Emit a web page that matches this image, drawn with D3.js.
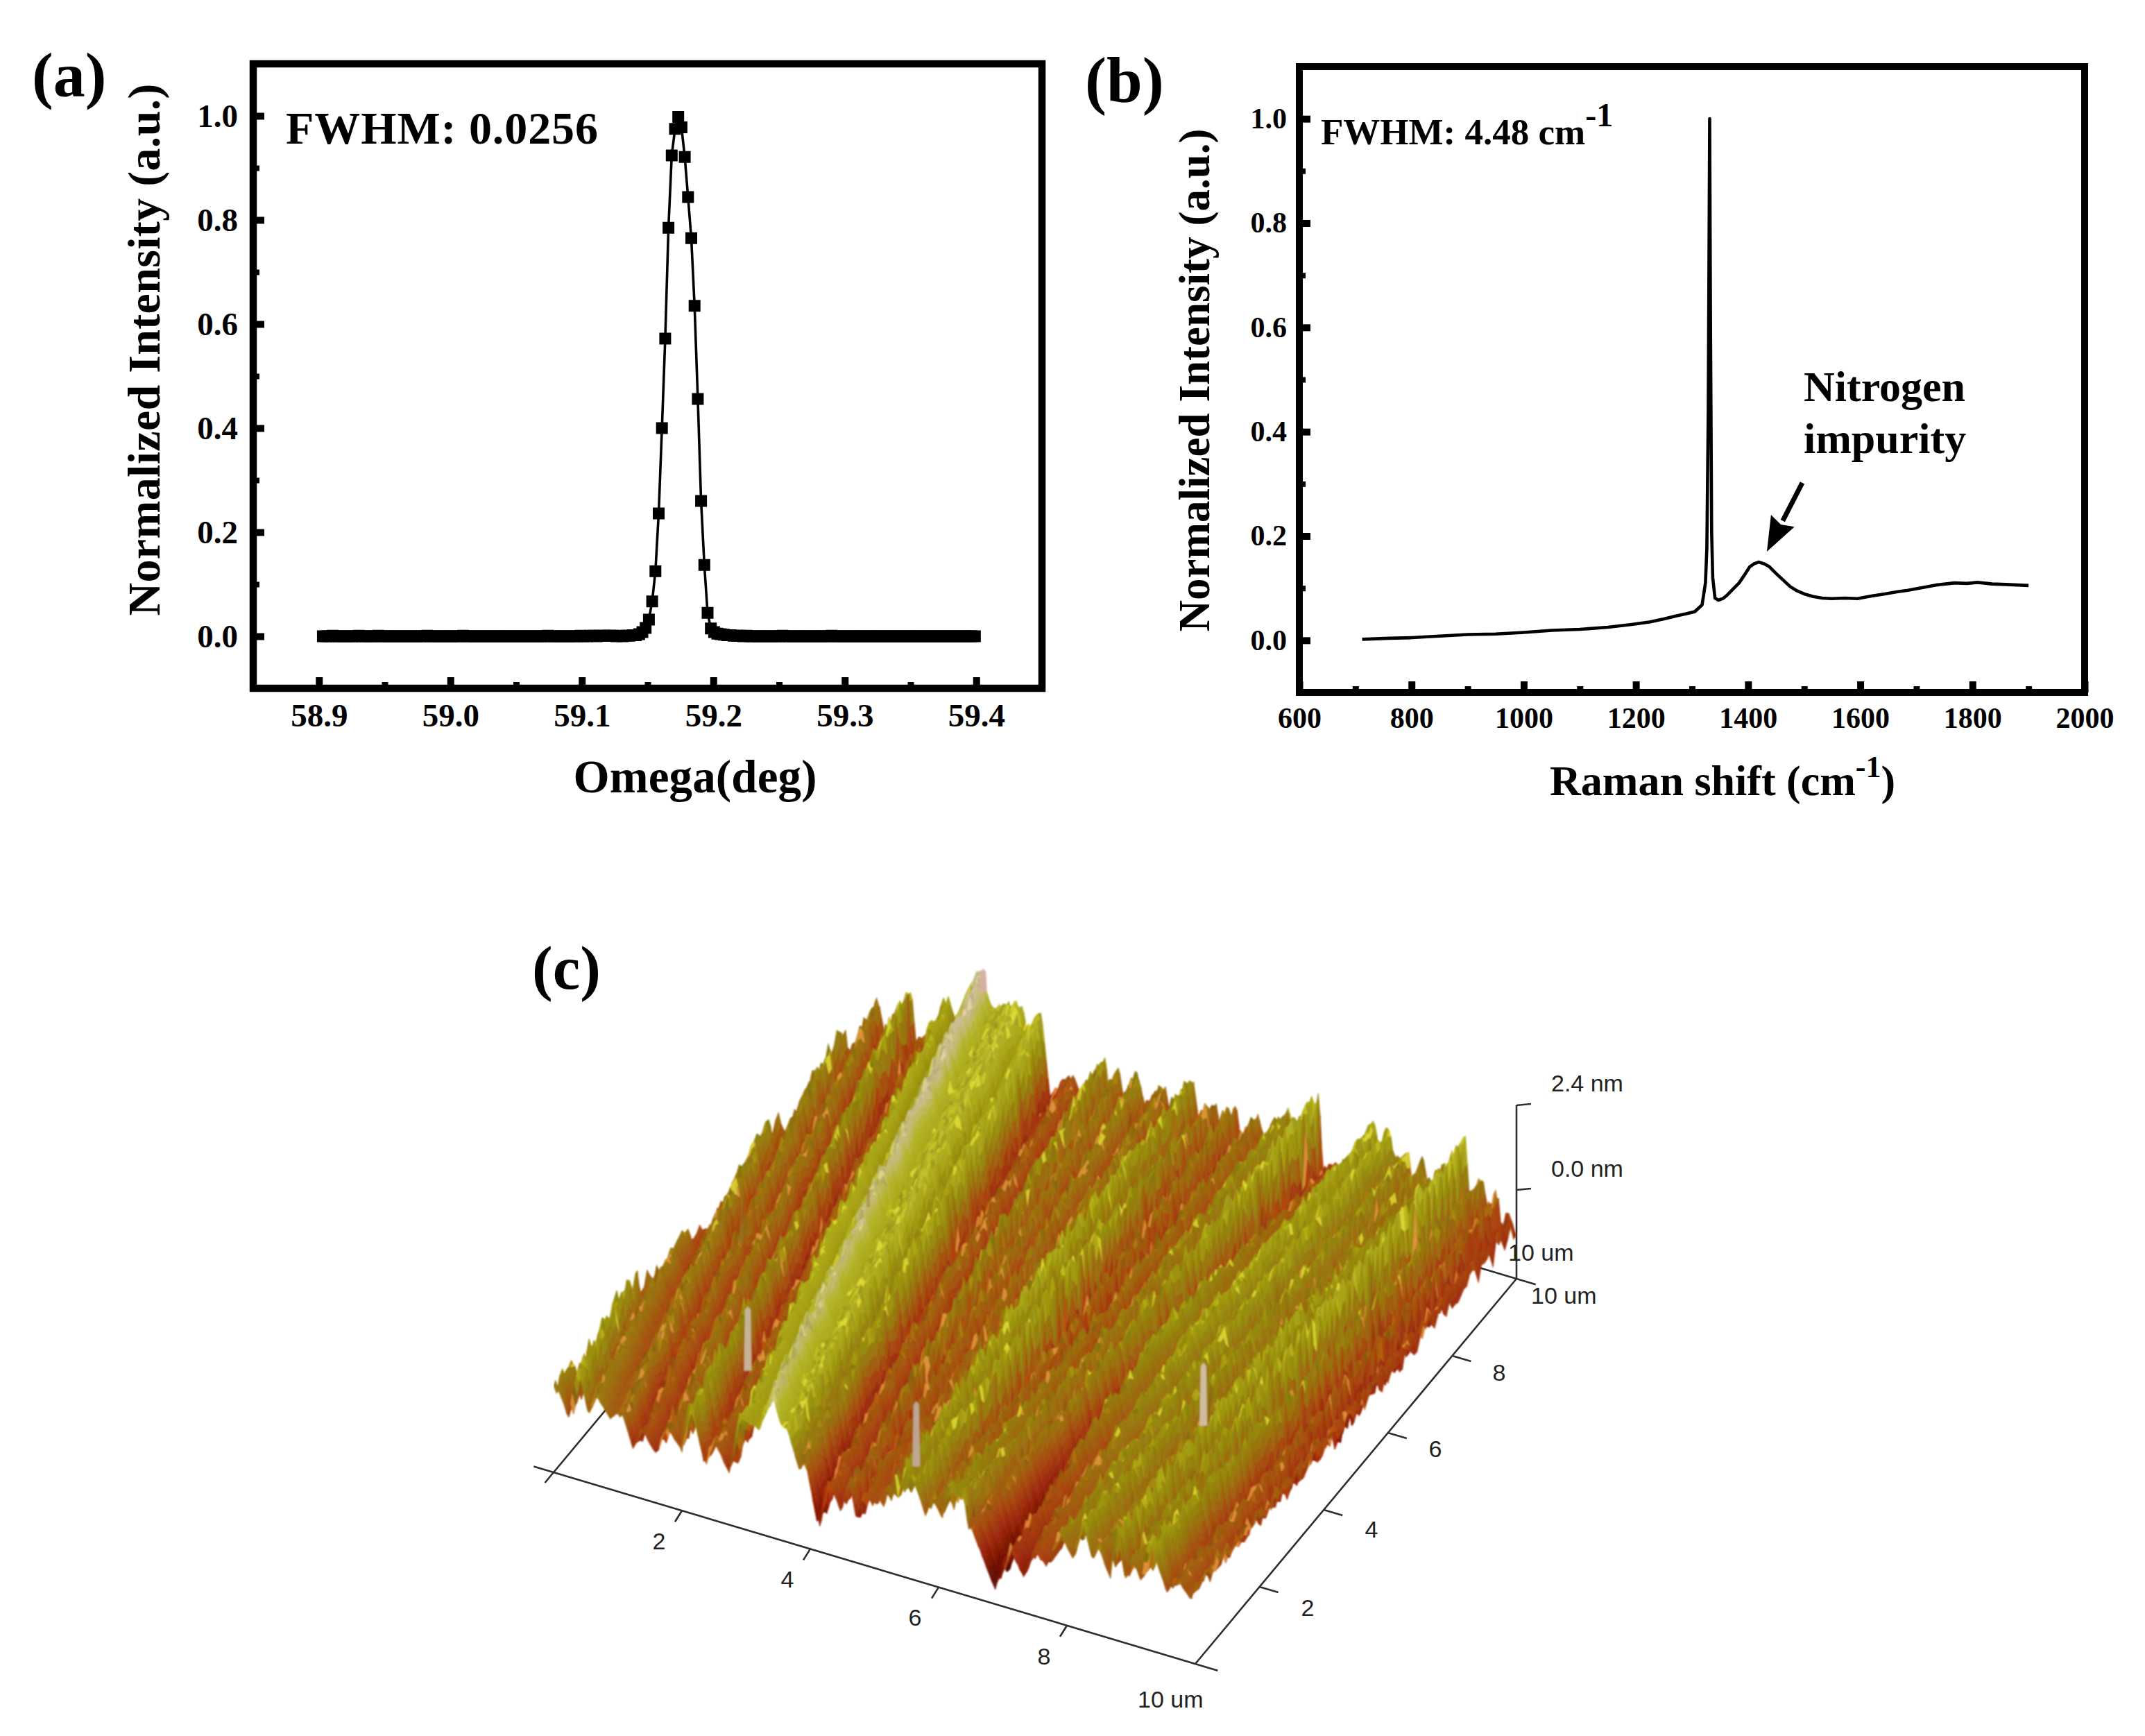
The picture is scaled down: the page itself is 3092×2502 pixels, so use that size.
<!DOCTYPE html>
<html><head><meta charset="utf-8">
<style>html,body{margin:0;background:#fff}svg{display:block}text{fill:#000}</style>
<script src="https://cdn.jsdelivr.net/npm/d3@7"></script></head><body>
<svg id="c" width="3092" height="2502" xmlns="http://www.w3.org/2000/svg"><defs><filter id="soft" x="0" y="0" width="100%" height="100%"><feGaussianBlur stdDeviation="0.8"/></filter></defs></svg>
<script>
// ---------- panel (a) ----------
const omegaStart = 58.903, omegaStep = 0.00248;
const omegaIntensity = [
0,0,0,0.001,0,0,0,0,0,0, 0,0.001,0,0,0,0,0,0.001,0,0, 0,0,0,0,0,0,0,0,0,0,
0,0,0.001,0,0,0,0,0,0,0, 0,0,0,0.001,0,0,0,0,0,0, 0,0,0,0,0,0,0,0,0,0,
0,0,0,0,0,0,0,0,0,0.001, 0,0,0,0,0,0,0,0,0,0.001, 0,0,0.001,0.001,0,0.001,0.001,0.001,0.001,0.001,
0,0.001,0,0.001,0.001,0.002,0.002,0.004,0.008,0.016,
0.032,0.067,0.125,0.236,0.400,0.572,0.785,0.924,0.975,0.998,
0.978,0.921,0.844,0.765,0.635,0.456,0.260,0.137,0.045,0.015,
0.008,0.005,0.004,0.003,0.002,0.002,0.001,0.001,0.001,0,
0.001,0,0,0,0,0,0,0,0,0, 0,0.001,0,0,0,0,0,0,0,0, 0,0,0,0,0,0,0.001,0,0,0,
0,0,0,0,0,0,0,0,0,0, 0,0,0,0,0,0,0,0,0,0, 0,0,0,0,0,0,0,0,0,0,
0,0,0,0,0,0,0,0,0,0, 0];
const omegaTicks = [58.9,59.0,59.1,59.2,59.3,59.4];
const omegaMinor = [58.95,59.05,59.15,59.25,59.35];
const intensityTicks = [0,0.2,0.4,0.6,0.8,1.0];
const intensityMinor = [0.1,0.3,0.5,0.7,0.9];

// ---------- panel (b) ----------
const ramanShift = [712,760,800,850,900,950,1000,1050,1100,1150,1190,1224,1250,1273,1290,1305,1318,1324,1326.5,1329,1331.5,1333,1335,1337,1341,1347,1355,1363,1373,1384,1394,1403,1411,1419,1428,1438,1450,1463,1475,1487,1500,1516,1532,1549,1572,1595,1620,1644,1665,1685,1710,1735,1752,1768,1790,1809,1835,1860,1880,1900];
const ramanIntensity = [0.002,0.004,0.005,0.008,0.011,0.012,0.015,0.019,0.021,0.025,0.030,0.035,0.041,0.047,0.051,0.055,0.068,0.110,0.177,0.440,1.0,0.60,0.208,0.120,0.081,0.077,0.080,0.087,0.098,0.110,0.126,0.141,0.147,0.150,0.147,0.141,0.128,0.115,0.103,0.095,0.089,0.084,0.081,0.080,0.081,0.080,0.085,0.089,0.093,0.096,0.101,0.106,0.108,0.110,0.109,0.111,0.108,0.107,0.106,0.105];
const ramanTicks = [600,800,1000,1200,1400,1600,1800,2000];
const ramanMinor = [700,900,1100,1300,1500,1700,1900];
const arrowRaman = [1496.6,1433.5], arrowIntensity = [0.302,0.170];

// ---------- panel (c): relief read from the AFM rendering ----------
const crestFrontX = [-0.3,0.06,0.39,0.61,1.11,1.41,1.80,2.13,2.54,2.93,3.37,3.68,3.90,4.28,4.64,4.85,5.08,5.20,5.38,5.65,5.90,6.13,6.35,6.51,7.12,7.45,7.92,8.20,8.45,8.75,9.00,9.30,9.70,10.0,10.4];
const crestBackX  = [-2.0,-1.6,-1.25,-1.0,-0.55,-0.2,0.06,0.53,0.85,1.13,1.69,2.27,2.65,3.12,3.59,3.82,4.14,4.53,4.94,5.28,5.58,5.94,6.43,6.91,7.2,7.82,8.04,8.37,8.60,8.84,9.24,9.48,9.74,9.92,10.4];
const crestZFront = [120,132,162,127,116,100,114,161,110,158,201,163,120,101,111,105,101,120,148,147,120,144,138,100,77,95,133,153,125,162,125,162,110,118,100];
const crestZMid   = [120,135,145,125,135,125,128,135,112,172,205,176,170,118,140,125,122,130,172,172,118,122,132,150,155,158,155,150,135,170,178,140,112,100,90];
const crestZBack  = [120,130,130,130,150,150,128,161,110,165,218,183,180,104,147,131,138,126,152,125,131,123,146,184,90,166,165,138,139,135,185,134,117,92,80];
const valleyZFront= [84,84,97,100,66,70,85,73,71,150,163,110,30,67,57,90,92,105,120,99,100,138,100,20,50,75,100,105,85,85,95,90,90,70,70];
const valleyZMid  = [78,78,85,78,72,72,62,55,52,145,160,112,65,50,70,72,75,80,95,50,50,70,80,60,105,110,95,95,78,85,70,50,45,45,45];
const valleyZBack = [85,85,85,85,85,85,65,60,55,125,165,145,60,70,90,85,90,65,85,65,65,85,85,65,80,125,115,90,90,90,90,75,60,55,55];
const grain = [3,-7,9,-2,5,-10,1,8,-4,6,-8,2,10,-5,0,7,-3,-9,4,-1,9,-6,2,-10,5,8,-2,-7,3,10,-4,1,-8,6,-1,-9,7,2,-5,10,-3,4,-7,0,8,-10,5,-2,9,-6,1,3,-8,7,-4,10,-1,-5,6,2,-9,8,-3,0,5,-7,9,-2,4,-10,1,6,-6,3,10,-8,-1,7,-4,2,9,-5,0,-9,8,-3,5,1,-7,10,-2,6,-10,4,-6,3,7,-1,-8,9,-4];
const reliefLevels = [10,40,65,90,112,135,158,182,204,230];
const reliefColors = ["#3e0500","#700f02","#9a2408","#a8460a","#9c6a0a","#94860c","#a8a414","#b4b428","#c8bc88","#d8c4b0"];
const spikeX = [1.9,4.5,8.0,1.69,0.5,1.85], spikeY = [2.25,2.3,4.25,10,4.85,6.1];
const spikeBase = [74,5,52,184,75,95], spikeTop = [167,99,143,218,132,125];
const spikeColor = ["#c8b89c","#c0aa98","#d4c0a4","#d4b0a0","#8a7a30","#a08040"];
const floorTicksX = [2,4,6,8], floorTicksY = [2,4,6,8];

const svg = d3.select("#c");
const serif = "'Liberation Serif','Times New Roman',serif";
const sans = "'Liberation Sans',Arial,sans-serif";

function label(x,y,txt,size,opts={}){
  const t = svg.append("text").attr("x",x).attr("y",y).text(txt)
    .attr("font-family",opts.family||serif).attr("font-weight",opts.weight||"bold").attr("font-size",size)
    .attr("text-anchor",opts.anchor||"start");
  if(opts.len) t.attr("textLength",opts.len).attr("lengthAdjust","spacing");
  if(opts.fill) t.style("fill",opts.fill);
  return t;
}
function frame(x,y,sw){
  svg.append("rect").attr("x",x.range()[0]).attr("y",y.range()[1])
    .attr("width",x.range()[1]-x.range()[0]).attr("height",y.range()[0]-y.range()[1])
    .attr("fill","none").attr("stroke","#000").attr("stroke-width",sw);
}
function axes(x,y,xT,xM,yT,yM,size,xPad,yPad,fmtX,fmtY){
  const yb=y.range()[0], xl=x.range()[0];
  const g1=svg.append("g").attr("transform",`translate(0,${yb})`).call(d3.axisBottom(x).tickValues(xT).tickSize(-16).tickPadding(xPad).tickFormat(fmtX));
  const g2=svg.append("g").attr("transform",`translate(${xl},0)`).call(d3.axisLeft(y).tickValues(yT).tickSize(-16).tickPadding(yPad).tickFormat(fmtY));
  const g3=svg.append("g").attr("transform",`translate(0,${yb})`).call(d3.axisBottom(x).tickValues(xM).tickSize(-9).tickFormat(""));
  const g4=svg.append("g").attr("transform",`translate(${xl},0)`).call(d3.axisLeft(y).tickValues(yM).tickSize(-9).tickFormat(""));
  [g1,g2,g3,g4].forEach(g=>{g.select(".domain").remove();
    g.selectAll("line").attr("stroke","#000");
    g.selectAll("text").attr("font-family",serif).attr("font-weight","bold").attr("font-size",size).style("fill","#000");
    g.attr("font-family",null).attr("font-size",null);});
  g1.selectAll("line").attr("stroke-width",10); g2.selectAll("line").attr("stroke-width",10);
  g3.selectAll("line").attr("stroke-width",9); g4.selectAll("line").attr("stroke-width",8);
}

// ---- (a)
const xA=d3.scaleLinear([58.85,59.45],[365,1502]), yA=d3.scaleLinear([-0.1,1.1],[992,92]);
frame(xA,yA,10.5);
axes(xA,yA,omegaTicks,omegaMinor,intensityTicks,intensityMinor,47,22,22,d3.format(".1f"),d3.format(".1f"));
const omegaPts=omegaIntensity.map((v,i)=>[omegaStart+i*omegaStep,v]);
svg.append("path").datum(omegaPts).attr("fill","none").attr("stroke","#000").attr("stroke-width",3.6)
  .attr("d",d3.line().x(d=>xA(d[0])).y(d=>yA(d[1])));
svg.append("g").selectAll("rect").data(omegaPts).join("rect")
  .attr("x",d=>xA(d[0])-8.5).attr("y",d=>yA(d[1])-8.5).attr("width",17).attr("height",17).attr("fill","#000");
label(46,139,"(a)",92);
label(412,207,"FWHM: 0.0256",66,{len:450});
label(0,0,"Normalized Intensity (a.u.)",66,{anchor:"middle",len:767}).attr("transform","translate(230,504) rotate(-90)");
label(1002,1142,"Omega(deg)",67,{anchor:"middle",len:351});

// ---- (b)
const xB=d3.scaleLinear([600,2000],[1873,3005]), yB=d3.scaleLinear([-0.1,1.1],[998,96]);
frame(xB,yB,10);
axes(xB,yB,ramanTicks,ramanMinor,intensityTicks,intensityMinor,42,21,18,d3.format("d"),d3.format(".1f"));
svg.append("path").datum(ramanShift.map((r,i)=>[r,ramanIntensity[i]])).attr("fill","none").attr("stroke","#000").attr("stroke-width",4.6)
  .attr("stroke-linejoin","round").attr("d",d3.line().x(d=>xB(d[0])).y(d=>yB(d[1])));
label(1564,147,"(b)",93);
const fw=label(1904,208,"FWHM: 4.48 cm",53);
fw.append("tspan").text("-1").attr("font-size",48).attr("dy",-26);
label(0,0,"Normalized Intensity (a.u.)",63,{anchor:"middle",len:725}).attr("transform","translate(1743,548) rotate(-90)");
const rm=label(2234,1146,"Raman shift (cm",62);
rm.append("tspan").text("-1").attr("font-size",44).attr("dy",-26);
rm.append("tspan").text(")").attr("dy",26);
label(2600,578,"Nitrogen",62);
label(2600,653,"impurity",62);
(function(){
  const x0=xB(arrowRaman[0]),y0=yB(arrowIntensity[0]),x1=xB(arrowRaman[1]),y1=yB(arrowIntensity[1]);
  const L=Math.hypot(x1-x0,y1-y0),ux=(x1-x0)/L,uy=(y1-y0)/L,nx=-uy,ny=ux;
  const hl=50,hw=19,bx=x1-ux*hl,by=y1-uy*hl;
  svg.append("line").attr("x1",x0).attr("y1",y0).attr("x2",bx).attr("y2",by).attr("stroke","#000").attr("stroke-width",7);
  svg.append("polygon").attr("fill","#000").attr("points",[[x1,y1],[bx+nx*hw,by+ny*hw],[x1-ux*(hl-6),y1-uy*(hl-6)],[bx-nx*hw,by-ny*hw]].join(" "));
})();

// ---- (c)
label(767,1425,"(c)",89);
const pxX=d3.scaleLinear([0,10],[0,925]), pxXd=d3.scaleLinear([0,10],[0,276]);
const pyX=d3.scaleLinear([0,10],[0,463]), pyYd=d3.scaleLinear([0,10],[0,555]);
const zPx=d3.scaleLinear([0,250],[0,250]);
const proj=(x,y,z=0)=>[798+pxX(x)+pyX(y), 2122+pxXd(x)-pyYd(y)-zPx(z)];
const axisCol="#2e2e2e";
const seg=(g,a,b,w=2.6)=>g.append("line").attr("x1",a[0]).attr("y1",a[1]).attr("x2",b[0]).attr("y2",b[1]).attr("stroke",axisCol).attr("stroke-width",w);
const back=svg.append("g");
seg(back,proj(-0.31,0),proj(10.35,0));
seg(back,proj(0,-0.27),proj(0,1.7));
seg(back,proj(10,0),proj(10,10));
seg(back,proj(9.2,10),proj(10.3,10));
seg(back,proj(10,10),proj(10,10,250));
const zTickVals=[128,250];
zTickVals.forEach(z=>{const p=proj(10,10,z);seg(back,p,[p[0]+21,p[1]-2]);});
floorTicksX.forEach(t=>{const p=proj(t,0);seg(back,p,[p[0]-10,p[1]+16]);});
floorTicksY.forEach(t=>{const p=proj(10,t);seg(back,p,[p[0]+27,p[1]+8]);});

// relief mesh: gentle rise with x up to each crest, then a steep smooth wall down to the valley
const reliefColor=d3.scaleLinear(reliefLevels,reliefColors).clamp(true);
const nxM=340, nyM=110, N=crestFrontX.length;
const gr=i=>grain[((i%grain.length)+grain.length)%grain.length];
function knot(a,b,c,y){
  if(y<5){const t=Math.pow(y/5,0.8);return a+(b-a)*t;}
  return b+(c-b)*(y-5)/5;
}
const Z=[],W=[];
for(let iy=0;iy<=nyM;iy++){
  const y=iy/nyM*10, row=[], wrow=[];
  const wf=y<1.5?0.58-(y/1.5)*0.13:0.45-(y-1.5)/8.5*0.17;
  const cs=crestFrontX.map((f,r)=>f+(crestBackX[r]-f)*y/10+gr(iy*7+r*13)*0.006);
  const zc=crestFrontX.map((_,r)=>knot(crestZFront[r],crestZMid[r],crestZBack[r],y));
  const zv=crestFrontX.map((_,r)=>knot(valleyZFront[r],valleyZMid[r],valleyZBack[r],y));
  let r=0;
  for(let ix=0;ix<=nxM;ix++){
    const x=ix/nxM*10;
    while(r<N-2&&x>=cs[r+1])r++;
    const t=Math.max(0,Math.min(1,(x-cs[r])/(cs[r+1]-cs[r])));
    let z,wall=false;
    if(t<wf){ z=zc[r]+(zv[r]-zc[r])*(t/wf); wall=true; z+=gr(ix*37+iy*53)*0.12; }
    else { const u=(t-wf)/(1-wf); z=zv[r]+(zc[r+1]-zv[r])*Math.pow(u,0.8); z+=gr(ix*37+iy*53)*(0.3+0.4*u); }
    row.push(z); wrow.push(wall);
  }
  Z.push(row);W.push(wrow);
}
const cells=[];
for(let ix=0;ix<nxM;ix++)for(let iy=nyM-1;iy>=0;iy--)cells.push([ix,iy]);
const xv=i=>i/nxM*10,yv=i=>i/nyM*10;
const mesh=svg.append("g").attr("filter","url(#soft)");
mesh.selectAll("path").data(cells).join("path").each(function(d){
  const [ix,iy]=d;
  const a=Z[iy][ix],b=Z[iy][ix+1],c=Z[iy+1][ix+1],e=Z[iy+1][ix];
  const pts=[proj(xv(ix),yv(iy),a),proj(xv(ix+1),yv(iy),b),proj(xv(ix+1),yv(iy+1),c),proj(xv(ix),yv(iy+1),e)].map(p=>[+p[0].toFixed(1),+p[1].toFixed(1)]);
  const m=(a+b+c+e)/4;
  let col=reliefColor(m);
  const s=gr(ix*41+(iy>>1)*29);
  if(!W[iy][ix]){
    if(s>=9&&m>60&&m<192) col=d3.interpolateRgb(col,m>125?"#e8e238":"#ee9c44")(0.78);
    else { const k=gr(ix*17+iy*11)*0.035; const cc=d3.color(col); col=(k>0?cc.brighter(k):cc.darker(-k)).formatHex(); }
  }
  this.setAttribute("d","M"+pts.join("L")+"Z");
  this.setAttribute("fill",col);this.setAttribute("stroke",col);this.setAttribute("stroke-width",0.6);
});
// spikes
spikeX.forEach((sx,i)=>{
  const b=proj(sx,spikeY[i],spikeBase[i]),t=proj(sx,spikeY[i],spikeTop[i]);
  const hw=i>3?2.5:5.5, tw=i>3?1:4;
  mesh.append("polygon").attr("points",[[b[0]-hw,b[1]],[t[0]-tw,t[1]+5],[t[0],t[1]],[t[0]+tw,t[1]+5],[b[0]+hw,b[1]]].join(" "))
    .attr("fill",spikeColor[i]).attr("opacity",i>3?0.6:0.95);
});
// labels of (c)
const sansOpt=(a)=>({family:sans,weight:"normal",anchor:a,fill:"#222"});
label(2236,1573,"2.4 nm",34,sansOpt("start"));
label(2236,1696,"0.0 nm",34,sansOpt("start"));
label(2174,1817,"10 um",34,sansOpt("start"));
label(2207,1879,"10 um",34,sansOpt("start"));
label(1640,2461,"10 um",34,sansOpt("start"));
const frontLabelX=[950,1135,1319,1505], frontLabelY=[2233,2288,2343,2399];
floorTicksX.forEach((t,i)=>label(frontLabelX[i],frontLabelY[i],String(t),34,sansOpt("middle")));
const depthLabelX=[1885,1977,2069,2161], depthLabelY=[2329,2216,2100,1990];
floorTicksY.forEach((t,i)=>label(depthLabelX[i],depthLabelY[i],String(t),34,sansOpt("middle")));
</script></body></html>
